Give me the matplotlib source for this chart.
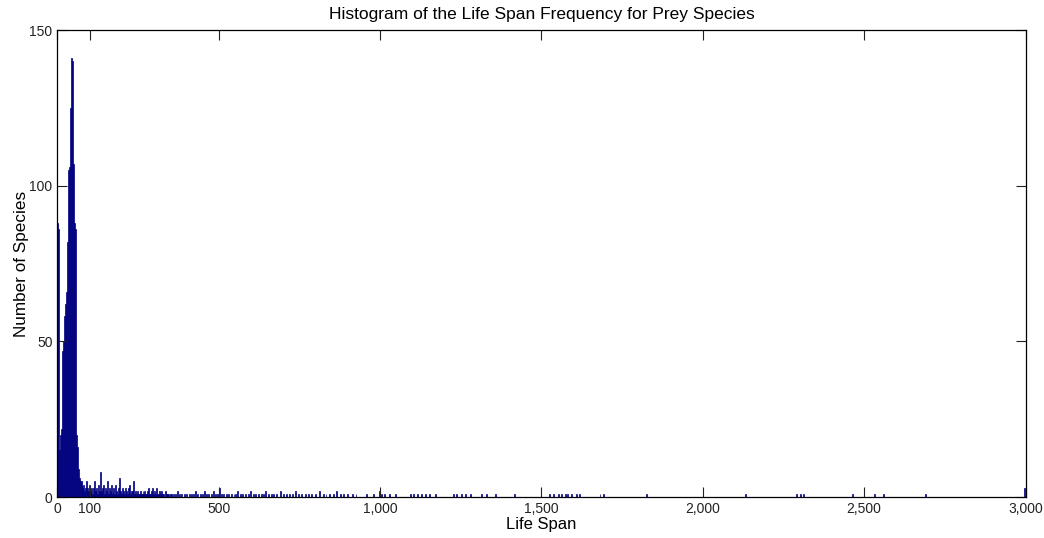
import matplotlib
matplotlib.use('Agg')
import matplotlib.pyplot as plt

# bin left edges (life span) and number of species in each bin, bin width 3
peak_edges = [0, 3, 6, 9, 12, 15, 18, 21, 24, 27, 30, 33, 36, 39, 42, 45,
              48, 51, 54, 57, 60, 63, 66, 69, 72]
peak_counts = [88, 86, 15, 20, 22, 47, 50, 58, 62, 66, 82, 105, 106, 125, 141, 140,
               107, 88, 86, 20, 16, 9, 6, 5, 5]

tail_edges = [75, 78, 81, 84, 87, 90, 93, 96, 99, 102, 105, 108, 111, 114, 117, 120,
              123, 126, 129, 132, 135, 138, 141, 144, 147, 150, 153, 156, 159, 162,
              165, 168, 171, 174, 177, 180, 183, 186, 189, 192, 195, 198, 201, 204,
              207, 210, 213, 216, 219, 222, 225, 228, 231, 234, 237, 240, 243, 246,
              249, 252, 255, 258, 261, 264, 267, 270, 273, 276, 279, 282, 285, 288,
              291, 294, 297, 300, 303, 306, 309, 312, 315, 318, 321, 324, 327, 333,
              336, 339, 342, 348, 351, 357]
tail_counts = [4, 3, 4, 2, 3, 5, 3, 2, 4, 2, 3, 1, 3, 5, 2, 3,
               1, 4, 2, 8, 2, 3, 4, 1, 3, 2, 5, 1, 3, 2,
               4, 1, 2, 3, 1, 4, 2, 1, 3, 6, 2, 1, 3, 2,
               1, 3, 2, 1, 3, 4, 1, 2, 2, 5, 1, 2, 1, 2,
               1, 1, 2, 1, 1, 2, 1, 2, 1, 1, 2, 3, 1, 1,
               2, 3, 1, 2, 1, 3, 1, 1, 2, 1, 2, 1, 1, 2,
               1, 1, 1, 1, 1, 1]

sparse_edges = [366, 372, 378, 384, 393, 399, 408, 414, 420, 426, 432, 441, 447, 456,
                462, 468, 477, 483, 489, 495, 501, 507, 513, 522, 528, 537, 546, 552,
                558, 567, 573, 582, 591, 597, 606, 612, 621, 630, 636, 645, 654, 663,
                669, 678, 690, 699, 708, 717, 726, 738, 747, 756, 768, 777, 786, 798,
                810, 822, 831, 843, 855, 864, 876, 885, 897, 912, 924, 957, 978, 996,
                1002, 1011, 1029, 1047, 1092, 1101, 1116, 1128, 1140, 1152, 1170, 1227,
                1236, 1251, 1263, 1278, 1314, 1329, 1356, 1416, 1524, 1536, 1551, 1560,
                1572, 1578, 1593, 1608, 1617, 1680, 1692, 1824, 2130, 2289, 2301, 2310,
                2463, 2532, 2559, 2688, 2994]
sparse_counts = [1, 2, 1, 1, 1, 1, 1, 1, 1, 2, 1, 1, 1, 2,
                 1, 1, 1, 2, 1, 1, 3, 1, 1, 1, 1, 1, 1, 1,
                 2, 1, 1, 1, 1, 2, 1, 1, 1, 1, 1, 2, 1, 1,
                 1, 1, 2, 1, 1, 1, 1, 2, 1, 1, 1, 1, 1, 1,
                 2, 1, 1, 1, 1, 2, 1, 1, 1, 1, 1, 1, 1, 2,
                 1, 1, 1, 1, 1, 1, 1, 1, 1, 1, 1, 1,
                 1, 1, 1, 1, 1, 1, 1, 1, 1, 1, 1, 1,
                 1, 1, 1, 1, 1, 1, 1, 1, 1, 1, 1, 1,
                 1, 1, 1, 1, 3]

x_ticks = [0, 100, 500, 1000, 1500, 2000, 2500, 3000]
x_tick_labels = ['0', '100', '500', '1,000', '1,500', '2,000', '2,500', '3,000']
y_ticks = [0, 50, 100, 150]

plt.rcParams['font.family'] = ['Liberation Sans', 'DejaVu Sans']

fig = plt.figure(figsize=(10.44, 5.38), dpi=100)
ax = fig.add_axes([0.0549, 0.0762, 0.9274, 0.868])

edges = peak_edges + tail_edges + sparse_edges
counts = peak_counts + tail_counts + sparse_counts
ax.bar(edges, counts, width=3, align='edge', color='#00007f',
       edgecolor='#00007f', linewidth=0.5)

ax.set_xlim(0, 3000)
ax.set_ylim(0, 150)
ax.set_xticks(x_ticks)
ax.set_xticklabels(x_tick_labels)
ax.set_yticks(y_ticks)
ax.tick_params(direction='in', top=True, right=True, length=7, width=0.8,
               labelsize=10, pad=3.5, colors='#222222')
for s in ax.spines.values():
    s.set_linewidth(0.9)

ax.set_title('Histogram of the Life Span Frequency for Prey Species',
             fontsize=12.5, pad=8)
ax.set_xlabel('Life Span', fontsize=12, labelpad=1)
ax.set_ylabel('Number of Species', fontsize=12.3, labelpad=0)

fig.savefig('out.png', dpi=100)
